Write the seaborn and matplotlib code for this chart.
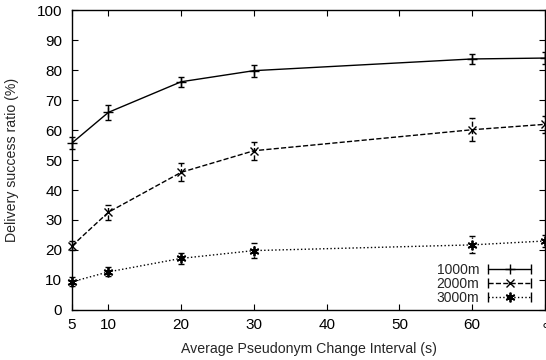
import numpy as np
import pandas as pd
import seaborn as sns
import matplotlib
matplotlib.use("Agg")
import matplotlib.pyplot as plt
from matplotlib.lines import Line2D
from matplotlib.legend_handler import HandlerBase

# data
intervals = [5, 10, 20, 30, 60, 70]
tick_pos = [5, 10, 20, 30, 40, 50, 60, 70]
tick_labels = ["5", "10", "20", "30", "40", "50", "60", "\u2218"]

ratio_1000 = [55.7, 65.9, 76.1, 79.8, 83.7, 84.0]
err_1000 = [2.1, 2.4, 1.7, 2.0, 1.8, 2.0]
ratio_2000 = [21.4, 32.6, 45.9, 53.1, 60.1, 61.9]
err_2000 = [1.5, 2.5, 3.0, 3.0, 3.8, 2.8]
ratio_3000 = [9.4, 12.7, 17.2, 19.8, 21.7, 23.0]
err_3000 = [1.5, 1.5, 1.8, 2.5, 2.8, 2.0]

series = ["1000m", "2000m", "3000m"]


class CapHandler(HandlerBase):
    # gnuplot-like key entry: line with end caps and the marker in the middle
    def create_artists(self, legend, orig, xdescent, ydescent, width, height,
                       fontsize, trans):
        y = height / 2 - ydescent
        x0, x1 = -xdescent, width - xdescent
        ls = orig.get_linestyle()
        line = Line2D([x0, x1], [y, y], color="black", linestyle=ls, linewidth=1.0)
        caps = Line2D([x0, x1], [y, y], color="black", linestyle="none",
                      marker="|", markersize=7, markeredgewidth=1.0)
        mk = Line2D([(x0 + x1) / 2], [y], color="black", linestyle="none",
                    marker=orig.get_marker(), markersize=orig.get_markersize(),
                    markeredgewidth=orig.get_markeredgewidth())
        for a in (line, caps, mk):
            a.set_transform(trans)
        return [line, caps, mk]


sns.set_style("ticks")
plt.rcParams['font.family'] = ['Liberation Sans', 'DejaVu Sans']
plt.rcParams['font.size'] = 10

df = pd.DataFrame({
    "interval": intervals * 3,
    "ratio": ratio_1000 + ratio_2000 + ratio_3000,
    "err": err_1000 + err_2000 + err_3000,
    "range": sum([[s] * len(intervals) for s in series], []),
})

fig = plt.figure(figsize=(5.46, 3.6), dpi=100)
ax = fig.add_axes([0.132, 0.139, 0.866, 0.833])

styles = {"1000m": ("-", "+", 7, 1.0),
          "2000m": ("--", "x", 6, 1.0),
          "3000m": (":", (6, 2, 0), 7, 1.3)}
handles = []
for s in series:
    d = df[df["range"] == s]
    ls, mk, ms, mew = styles[s]
    sns.lineplot(x="interval", y="ratio", data=d, ax=ax, color="black",
                 linestyle=ls, linewidth=1.0, legend=False)
    ax.plot(d["interval"], d["ratio"], linestyle="none", marker=mk,
            markersize=ms, markeredgewidth=mew, color="black", clip_on=False)
    h = ax.errorbar(d["interval"], d["ratio"], yerr=d["err"], fmt="none",
                    ecolor="black", elinewidth=1.0, capsize=2.5, capthick=1.0,
                    clip_on=False)
    for bar in h[2]:
        bar.set_linestyle(ls)
    handles.append(Line2D([], [], color="black", linestyle=ls, marker=mk,
                          markersize=ms, markeredgewidth=mew))

ax.set_xlim(5, 70)
ax.set_ylim(0, 100)
ax.set_xticks(tick_pos)
ax.set_xticklabels(tick_labels)
ax.set_yticks(np.arange(0, 101, 10))
ax.tick_params(direction="in", top=True, right=True, length=4, width=0.8,
               labelsize=11, colors="black")
ax.tick_params(axis="y", pad=7)
ax.tick_params(axis="x", pad=6)
for sp in ax.spines.values():
    sp.set_linewidth(1.0)
    sp.set_color("black")

ax.set_xlabel("Average Pseudonym Change Interval (s)", fontsize=10.2, labelpad=7)
ax.set_ylabel("Delivery success ratio (%)", fontsize=10.2, labelpad=13)

ax.legend(handles, series, loc="lower right", bbox_to_anchor=(0.992, -0.017),
          frameon=False, markerfirst=False, fontsize=10, handlelength=3.1,
          labelspacing=0.0, borderpad=0.2, handletextpad=0.65,
          handler_map={Line2D: CapHandler()})

fig.savefig("out.png", dpi=100)
